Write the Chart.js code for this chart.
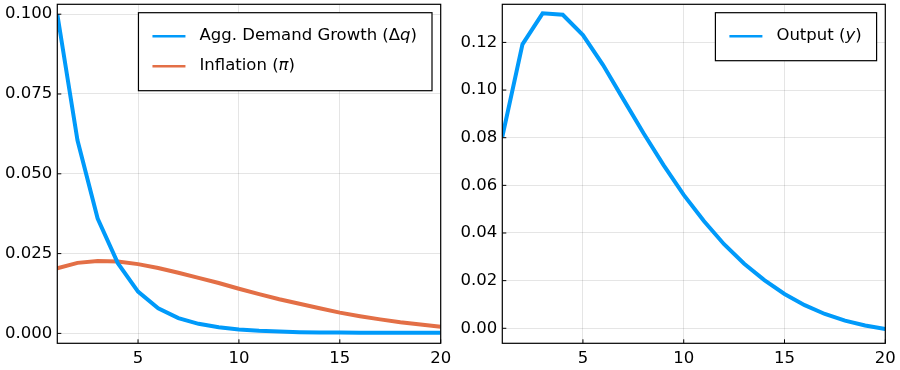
<!DOCTYPE html>
<html>
<head>
<meta charset="utf-8">
<script src="https://cdn.jsdelivr.net/npm/chart.js@4.4.1/dist/chart.umd.min.js"></script>
<style>
  html, body { margin: 0; padding: 0; background: #fff; }
  #wrap { position: relative; width: 900px; height: 370px; overflow: hidden; }
  /* canvases are taller/wider than their share so Chart.js label padding lands outside the view */
  .panel { position: absolute; top: -20px; height: 390px; }
  #left { left: 0; width: 480px; }
  #right { left: 450px; width: 480px; }
</style>
</head>
<body>
<div id="wrap">
  <div class="panel" id="left"><canvas id="leftChart"></canvas></div>
  <div class="panel" id="right"><canvas id="rightChart"></canvas></div>
</div>
<script>
// data
const periods = [1, 2, 3, 4, 5, 6, 7, 8, 9, 10, 11, 12, 13, 14, 15, 16, 17, 18, 19, 20];
const demandGrowth = [0.1000, 0.0605, 0.0360, 0.0220, 0.0131, 0.0079, 0.0048, 0.0030, 0.0019, 0.0012,
                      0.0008, 0.0006, 0.0004, 0.0003, 0.0003, 0.0002, 0.0002, 0.0002, 0.0002, 0.0002];
const inflation = [0.0204, 0.0221, 0.0227, 0.0225, 0.0217, 0.0205, 0.0190, 0.0174, 0.0158, 0.0140,
                   0.0123, 0.0107, 0.0093, 0.0079, 0.0065, 0.0054, 0.0044, 0.0035, 0.0028, 0.0021];
const output = [0.0804, 0.1192, 0.1322, 0.1316, 0.1231, 0.1105, 0.0962, 0.0820, 0.0685, 0.0560,
                0.0450, 0.0353, 0.0271, 0.0202, 0.0144, 0.0097, 0.0060, 0.0032, 0.0012, -0.0003];

const xTicks = [5, 10, 15, 20];
const leftYTicks = [0, 0.025, 0.05, 0.075, 0.1];
const rightYTicks = [0, 0.02, 0.04, 0.06, 0.08, 0.10, 0.12];

// legend texts, split so the math symbol can be italic
const demandLabel = [['Agg. Demand Growth (Δ', false], ['q', true], [')', false]];
const inflationLabel = [['Inflation (', false], ['π', true], [')', false]];
const outputLabel = [['Output (', false], ['y', true], [')', false]];

const BLUE = 'rgb(0, 154, 250)';
const ORANGE = 'rgb(227, 111, 70)';
const FONT = 'DejaVu Sans';
const FSIZE = 16.5;

function points(ys) {
    return periods.map((p, i) => ({ x: p, y: ys[i] }));
}

// box frame + inward tick marks + legend inside plot (Plots.jl look)
const framePlugin = {
    id: 'frameBox',
    afterDatasetsDraw(chart) {
        const { ctx, chartArea: a, scales } = chart;
        ctx.save();
        ctx.strokeStyle = '#000';
        ctx.lineWidth = 1.2;
        ctx.strokeRect(a.left, a.top, a.right - a.left, a.bottom - a.top);
        ctx.lineWidth = 1;
        ctx.beginPath();
        scales.x.ticks.forEach(t => {
            const px = scales.x.getPixelForValue(t.value);
            ctx.moveTo(px, a.bottom);
            ctx.lineTo(px, a.bottom - 4);
        });
        scales.y.ticks.forEach(t => {
            const py = scales.y.getPixelForValue(t.value);
            ctx.moveTo(a.left, py);
            ctx.lineTo(a.left + 4, py);
        });
        ctx.stroke();

        // legend
        const items = chart.options.plugins.frameBox.items;
        const widthOf = parts => parts.reduce((s, [txt, it]) => {
            ctx.font = (it ? 'italic ' : '') + FSIZE + 'px "' + FONT + '"';
            return s + ctx.measureText(txt).width;
        }, 0);
        const textW = Math.max(...items.map(it => widthOf(it.parts)));
        const boxW = 14 + 33 + 14 + textW + 15;
        const boxH = 18 + 30 * items.length;
        const bx = a.right - 8.7 - boxW;
        const by = a.top + 8.4;
        ctx.fillStyle = '#fff';
        ctx.fillRect(bx, by, boxW, boxH);
        ctx.strokeStyle = '#000';
        ctx.lineWidth = 1.2;
        ctx.strokeRect(bx, by, boxW, boxH);
        items.forEach((it, i) => {
            const cy = by + 23.5 + 30 * i;
            ctx.strokeStyle = it.color;
            ctx.lineWidth = 2.5;
            ctx.beginPath();
            ctx.moveTo(bx + 14, cy);
            ctx.lineTo(bx + 47, cy);
            ctx.stroke();
            let tx = bx + 61;
            ctx.fillStyle = '#000';
            ctx.textBaseline = 'middle';
            it.parts.forEach(([txt, italic]) => {
                ctx.font = (italic ? 'italic ' : '') + FSIZE + 'px "' + FONT + '"';
                ctx.fillText(txt, tx, cy);
                tx += ctx.measureText(txt).width;
            });
        });
        ctx.restore();
    }
};

function makeChart(id, datasets, yMin, yMax, yTicks, decimals, yWidth, padRight, legendItems) {
    const ctx = document.getElementById(id).getContext('2d');
    return new Chart(ctx, {
        type: 'line',
        data: { datasets },
        plugins: [framePlugin],
        options: {
            responsive: true,
            maintainAspectRatio: false,
            animation: false,
            layout: { padding: { top: 24.3, right: padRight, left: 0, bottom: 0 } },
            elements: { point: { radius: 0 }, line: { tension: 0, borderWidth: 4 } },
            plugins: {
                legend: { display: false },
                tooltip: { enabled: false },
                frameBox: { items: legendItems }
            },
            scales: {
                x: {
                    type: 'linear',
                    min: 1,
                    max: 20,
                    afterBuildTicks: s => { s.ticks = xTicks.map(v => ({ value: v })); },
                    afterFit: s => { s.height = 26.7; },
                    grid: { color: 'rgba(0,0,0,0.1)', drawTicks: false },
                    border: { display: false },
                    ticks: {
                        padding: 6,
                        maxRotation: 0,
                        color: '#000',
                        font: { family: FONT, size: FSIZE },
                        callback: v => String(v)
                    }
                },
                y: {
                    min: yMin,
                    max: yMax,
                    afterBuildTicks: s => { s.ticks = yTicks.map(v => ({ value: v })); },
                    afterFit: s => { s.width = yWidth; },
                    grid: { color: 'rgba(0,0,0,0.1)', drawTicks: false },
                    border: { display: false },
                    ticks: {
                        padding: 5,
                        color: '#000',
                        font: { family: FONT, size: FSIZE },
                        callback: v => Number(v).toFixed(decimals)
                    }
                }
            }
        }
    });
}

makeChart('leftChart', [
    { label: 'Agg. Demand Growth (Δq)', data: points(demandGrowth), borderColor: BLUE, backgroundColor: BLUE },
    { label: 'Inflation (π)', data: points(inflation), borderColor: ORANGE, backgroundColor: ORANGE }
], -0.0031, 0.1031, leftYTicks, 3, 57.3, 39.3, [
    { parts: demandLabel, color: BLUE },
    { parts: inflationLabel, color: ORANGE }
]);

makeChart('rightChart', [
    { label: 'Output (y)', data: points(output), borderColor: BLUE, backgroundColor: BLUE }
], -0.0063, 0.136, rightYTicks, 2, 52.3, 44.7, [
    { parts: outputLabel, color: BLUE }
]);
</script>
</body>
</html>
